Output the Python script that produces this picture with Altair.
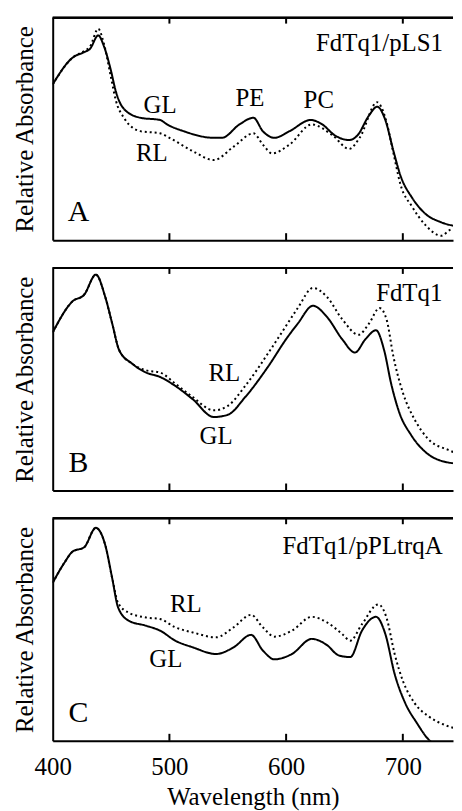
import altair as alt
import pandas as pd

FONT = "Liberation Serif, Times New Roman, Times, serif"
W = 403
H = 224

tick_values = [400, 500, 600, 700]

# Panel A (FdTq1/pLS1)
a_gl_wl = [400, 417, 427, 432, 439, 444, 450, 454, 461, 475, 492, 498, 512, 538, 545, 560, 572, 580, 590, 603, 621, 631, 642, 654, 661, 671, 678, 685, 692, 698, 708, 719, 733, 749]
a_gl = [0.70, 0.82, 0.845, 0.86, 0.92, 0.87, 0.76, 0.67, 0.59, 0.55, 0.54, 0.52, 0.49, 0.46, 0.46, 0.52, 0.55, 0.49, 0.46, 0.49, 0.54, 0.52, 0.47, 0.45, 0.47, 0.56, 0.60, 0.54, 0.40, 0.29, 0.19, 0.12, 0.08, 0.06]
a_rl_wl = [400, 417, 427, 432, 439, 444, 450, 454, 461, 475, 492, 500, 520, 538, 555, 572, 580, 588, 603, 622, 640, 654, 663, 678, 685, 692, 698, 708, 719, 733, 740, 749]
a_rl = [0.70, 0.82, 0.85, 0.87, 0.95, 0.88, 0.73, 0.63, 0.55, 0.49, 0.48, 0.46, 0.40, 0.36, 0.42, 0.48, 0.43, 0.39, 0.43, 0.52, 0.47, 0.41, 0.46, 0.62, 0.55, 0.39, 0.25, 0.15, 0.07, 0.02, 0.045, 0.06]

# Panel B (FdTq1)
b_gl_wl = [400, 417, 427, 437, 445, 451, 457, 468, 480, 492, 505, 520, 538, 550, 565, 585, 600, 610, 623, 635, 648, 659, 668, 677, 684, 690, 697, 707, 720, 735, 749]
b_gl = [0.71, 0.85, 0.88, 0.97, 0.87, 0.75, 0.63, 0.57, 0.53, 0.51, 0.47, 0.41, 0.33, 0.34, 0.42, 0.56, 0.68, 0.75, 0.83, 0.78, 0.68, 0.62, 0.68, 0.72, 0.63, 0.48, 0.35, 0.25, 0.17, 0.13, 0.12]
b_rl_wl = [400, 417, 427, 437, 445, 451, 457, 468, 480, 492, 505, 520, 538, 550, 565, 585, 600, 610, 623, 635, 648, 662, 671, 680, 686, 692, 700, 710, 722, 740, 749]
b_rl = [0.71, 0.85, 0.88, 0.97, 0.87, 0.75, 0.63, 0.57, 0.54, 0.53, 0.48, 0.42, 0.36, 0.38, 0.47, 0.62, 0.74, 0.82, 0.91, 0.87, 0.77, 0.70, 0.75, 0.82, 0.77, 0.60, 0.44, 0.32, 0.23, 0.18, 0.16]

# Panel C (FdTq1/pPLtrqA)
c_gl_wl = [400, 410, 417, 427, 437, 445, 451, 456, 465, 480, 492, 505, 520, 540, 555, 570, 580, 590, 605, 622, 635, 645, 655, 665, 677, 685, 693, 702, 712, 722, 728]
c_gl = [0.71, 0.80, 0.85, 0.87, 0.957, 0.88, 0.73, 0.60, 0.54, 0.517, 0.495, 0.45, 0.42, 0.39, 0.42, 0.476, 0.406, 0.366, 0.39, 0.458, 0.43, 0.384, 0.376, 0.495, 0.557, 0.48, 0.30, 0.17, 0.08, 0.006, -0.02]
c_rl_wl = [400, 410, 417, 427, 437, 445, 451, 456, 465, 480, 492, 505, 520, 540, 555, 570, 580, 590, 605, 622, 635, 648, 655, 665, 679, 686, 693, 700, 710, 722, 735, 749]
c_rl = [0.71, 0.80, 0.85, 0.87, 0.957, 0.88, 0.73, 0.62, 0.576, 0.554, 0.547, 0.51, 0.487, 0.465, 0.51, 0.566, 0.51, 0.468, 0.495, 0.557, 0.532, 0.48, 0.45, 0.524, 0.613, 0.554, 0.39, 0.27, 0.17, 0.11, 0.073, 0.05]

# annotations (text, wavelength, relative absorbance)
a_labels = ["FdTq1/pLS1", "GL", "RL", "PE", "PC"]
a_label_wl = [680, 492, 485, 569, 628]
a_label_val = [0.852, 0.570, 0.354, 0.601, 0.592]
b_labels = ["FdTq1", "RL", "GL"]
b_label_wl = [705.5, 547, 540]
b_label_val = [0.85, 0.491, 0.208]
c_labels = ["FdTq1/pPLtrqA", "RL", "GL"]
c_label_wl = [665.5, 514, 497]
c_label_val = [0.84, 0.578, 0.333]
panel_letters = ["A", "B", "C"]
letter_wl = 422
letter_val = 0.085

xscale = alt.Scale(domain=[400, 743], nice=False, zero=False)
yscale = alt.Scale(domain=[0, 1], nice=False, zero=False)


def make_panel(letter, gl_wl, gl, rl_wl, rl, labels, lwl, lval, bottom):
    df = pd.concat([
        pd.DataFrame({"wl": gl_wl, "val": gl, "series": "GL"}),
        pd.DataFrame({"wl": rl_wl, "val": rl, "series": "RL"}),
    ])
    if bottom:
        xaxis = alt.Axis(values=tick_values, ticks=False, tickSize=0, grid=False,
                         domainColor="black", domainWidth=2, labelFlush=False,
                         labelFont=FONT, labelFontSize=25, labelColor="black",
                         labelPadding=14, titleFont=FONT, titleFontSize=25,
                         titleFontWeight="normal", titleColor="black", titlePadding=5)
        xtitle = "Wavelength (nm)"
    else:
        xaxis = alt.Axis(values=tick_values, ticks=False, tickSize=0, grid=False,
                         labels=False, domainColor="black", domainWidth=2)
        xtitle = None
    yaxis = alt.Axis(ticks=False, labels=False, grid=False, domainColor="black",
                     domainWidth=2, title="Relative Absorbance", titleFont=FONT,
                     titleFontSize=25, titleFontWeight="normal", titleColor="black",
                     titlePadding=15)
    X = alt.X("wl:Q", scale=xscale, axis=xaxis, title=xtitle)
    Y = alt.Y("val:Q", scale=yscale, axis=yaxis)

    lines = alt.Chart(df).mark_line(clip=True, interpolate="monotone", color="black",
                                    strokeWidth=2).encode(
        x=X, y=Y,
        strokeDash=alt.StrokeDash("series:N", scale=alt.Scale(domain=["GL", "RL"], range=[[1, 0], [2, 3]]), legend=None),
        detail="series:N",
    )
    tdf = pd.DataFrame({"wl": tick_values[1:]})
    top_ticks = alt.Chart(tdf).mark_rule(color="black", strokeWidth=2).encode(
        x=X, y=alt.value(0), y2=alt.value(6))
    bot_ticks = alt.Chart(tdf).mark_rule(color="black", strokeWidth=2).encode(
        x=X, y=alt.value(H - 7), y2=alt.value(H))
    top_frame = alt.Chart(tdf).mark_rule(color="black", strokeWidth=2).encode(
        x=alt.value(0), x2=alt.value(W), y=alt.value(0))
    ldf = pd.DataFrame({"t": labels, "wl": lwl, "val": lval})
    text = alt.Chart(ldf).mark_text(font=FONT, fontSize=25, align="center",
                                    baseline="alphabetic", color="black").encode(
        x=X, y=Y, text="t:N")
    pdf = pd.DataFrame({"t": [letter], "wl": [letter_wl], "val": [letter_val]})
    ptext = alt.Chart(pdf).mark_text(font=FONT, fontSize=30, align="center",
                                     baseline="alphabetic", color="black").encode(
        x=X, y=Y, text="t:N")
    return alt.layer(lines, top_ticks, bot_ticks, top_frame, text, ptext).properties(width=W, height=H)


pa = make_panel("A", a_gl_wl, a_gl, a_rl_wl, a_rl, a_labels, a_label_wl, a_label_val, False)
pb = make_panel("B", b_gl_wl, b_gl, b_rl_wl, b_rl, b_labels, b_label_wl, b_label_val, False)
pc = make_panel("C", c_gl_wl, c_gl, c_rl_wl, c_rl, c_labels, c_label_wl, c_label_val, True)

chart = alt.vconcat(pa, pb, pc, spacing=26).properties(
    padding={"left": 5, "top": 6, "right": 0, "bottom": 0},
    background="white",
).configure_view(stroke=None)

chart.save("out.html", embed_options={"renderer": "svg", "actions": False})
